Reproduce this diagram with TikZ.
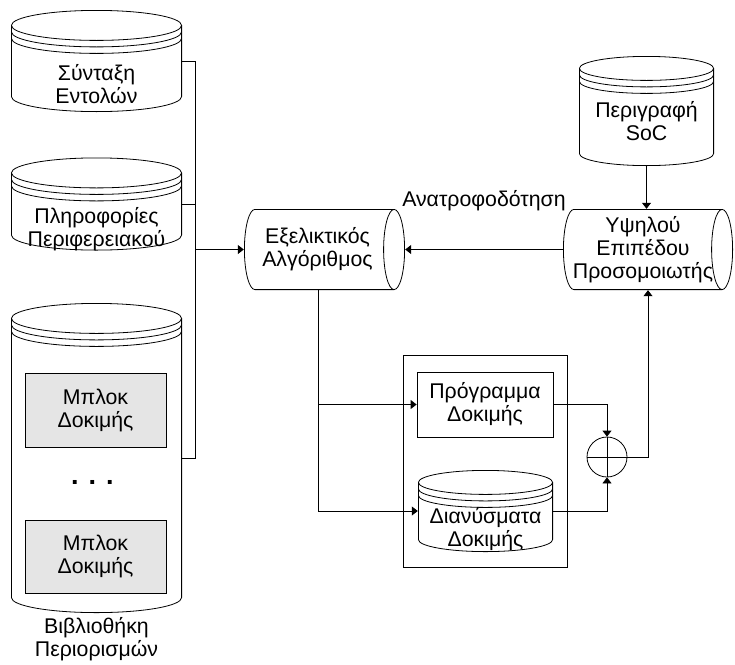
\documentclass[tikz,border=0pt]{standalone}
\usepackage{fontspec}
\setmainfont{Liberation Sans}
\usetikzlibrary{arrows.meta,positioning}

\definecolor{blkgray}{RGB}{229,229,229}

\tikzset{
  wire/.style={line width=0.8pt},
  conn/.style={wire,-{Triangle[length=6pt,width=9pt]}},
  % upright data store: lid, two rings under it, round base
  store/.style n args={3}{minimum width=#1pt,minimum height=#2pt,inner sep=0pt,
    path picture={
      \pgfmathsetmacro\storerx{#1/2-0.4}
      \draw[wire] ([yshift=-#3pt-0.4pt]path picture bounding box.north)
        ellipse[x radius=\storerx pt,y radius=#3pt];
      \draw[wire] ([xshift=0.4pt,yshift=-#3pt-0.4pt]path picture bounding box.north west)
        -- ([xshift=0.4pt,yshift=#3pt+0.4pt]path picture bounding box.south west)
        arc[start angle=180,end angle=360,x radius=\storerx pt,y radius=#3pt]
        -- ([xshift=-0.4pt,yshift=-#3pt-0.4pt]path picture bounding box.north east);
      \foreach \d in {6.5,13}
        \draw[wire] ([xshift=0.4pt,yshift=-#3pt-0.4pt-\d pt]path picture bounding box.north west)
          arc[start angle=180,end angle=360,x radius=\storerx pt,y radius=#3pt];}},
  % lying drum for the processing stages
  drum/.style n args={3}{minimum width=#1pt,minimum height=#2pt,inner sep=0pt,
    path picture={
      \pgfmathsetmacro\drumry{#2/2-0.4}
      \draw[wire] ([xshift=-#3pt-0.4pt,yshift=-0.4pt]path picture bounding box.north east)
        -- ([xshift=#3pt+0.4pt,yshift=-0.4pt]path picture bounding box.north west)
        arc[start angle=90,end angle=270,x radius=#3pt,y radius=\drumry pt]
        -- ([xshift=-#3pt-0.4pt,yshift=0.4pt]path picture bounding box.south east);
      \draw[wire] ([xshift=-#3pt-0.4pt]path picture bounding box.east)
        ellipse[x radius=#3pt,y radius=\drumry pt];}},
  blk/.style={draw,wire,align=center,inner sep=0pt},
  txt/.style={align=center}
}

\begin{document}
\begin{tikzpicture}[x=1pt,y=-1pt,font=\fontsize{21.3}{23}\selectfont]
  \useasboundingbox (0,0) rectangle (735,664);

  % left column: the three libraries
  \node[store={171}{102}{15},
    label={[txt,yshift=-23pt]center:Σύνταξη\\Εντολών}] (syn) at (96.5,61) {};
  \node[store={171}{93}{15},
    label={[txt,yshift=-25pt]center:Πληροφορίες\\Περιφερειακού}] (per) at (96.5,204) {};
  \node[store={171}{310}{15},
    label={[txt,yshift=-1pt]below:Βιβλιοθήκη\\Περιορισμών}] (lib) at (96.5,458) {};
  \node[blk,fill=blkgray,minimum width=141pt,minimum height=74pt] (blk1) at (95.5,410) {Μπλοκ\\Δοκιμής};
  \node[blk,fill=blkgray,minimum width=141pt,minimum height=73pt] (blk2) at (95.5,556.5) {Μπλοκ\\Δοκιμής};
  \node[font=\fontsize{27}{27}\selectfont\bfseries] (dots) at (92.5,482) {. . .};

  % the bus collecting the libraries
  \coordinate (bus) at (195,0);
  \draw[wire] (syn.east) -- (syn.east -| bus) -- (lib.east -| bus) -- (lib.east);
  \draw[wire] (per.east) -- (per.east -| bus);

  % algorithm and simulator
  \node[drum={161}{81}{10.5},label={[txt,xshift=-7pt]center:Εξελικτικός\\Αλγόριθμος}] (alg) at (324.5,249.5) {};
  \node[drum={170}{81}{10.5},label={[txt,xshift=-5pt]center:Υψηλού\\Επιπέδου\\Προσομοιωτής}] (sim) at (648,249.5) {};
  \node[store={135}{110}{12},
    label={[txt,yshift=-10pt]center:Περιγραφή\\SoC}] (soc) at (646.5,111) {};

  \draw[conn] (alg.west -| bus) -- (alg.west);
  \draw[conn] (sim.west) -- node[above=35pt] {Ανατροφοδότηση} (alg.east);
  \draw[conn] (soc.south) -- (soc.south |- sim.north);

  % generated test: program and vectors
  \node[blk,minimum width=164pt,minimum height=212pt] (grp) at (485,461) {};
  \node[blk,minimum width=136pt,minimum height=65pt] (prog) at (485,404.5) {Πρόγραμμα\\Δοκιμής};
  \node[store={135}{82}{12},
    label={[txt,yshift=-18pt]center:Διανύσματα\\Δοκιμής}] (vec) at (485.5,511) {};

  \node[draw,wire,circle,minimum size=40pt,inner sep=0pt,
    path picture={\draw[wire] (path picture bounding box.north) -- (path picture bounding box.south)
      (path picture bounding box.west) -- (path picture bounding box.east);}] (sum) at (607,457) {};

  \coordinate (tap) at ([xshift=-6.5pt]alg.south);
  \draw[conn] (tap) |- (prog.west);
  \draw[conn] (tap) |- (vec.west);
  \draw[conn] (prog.east) -| (sum.north);
  \draw[conn] (vec.east) -| (sum.south);
  \draw[conn] (sum.east) -| (sim.south);
\end{tikzpicture}
\end{document}
